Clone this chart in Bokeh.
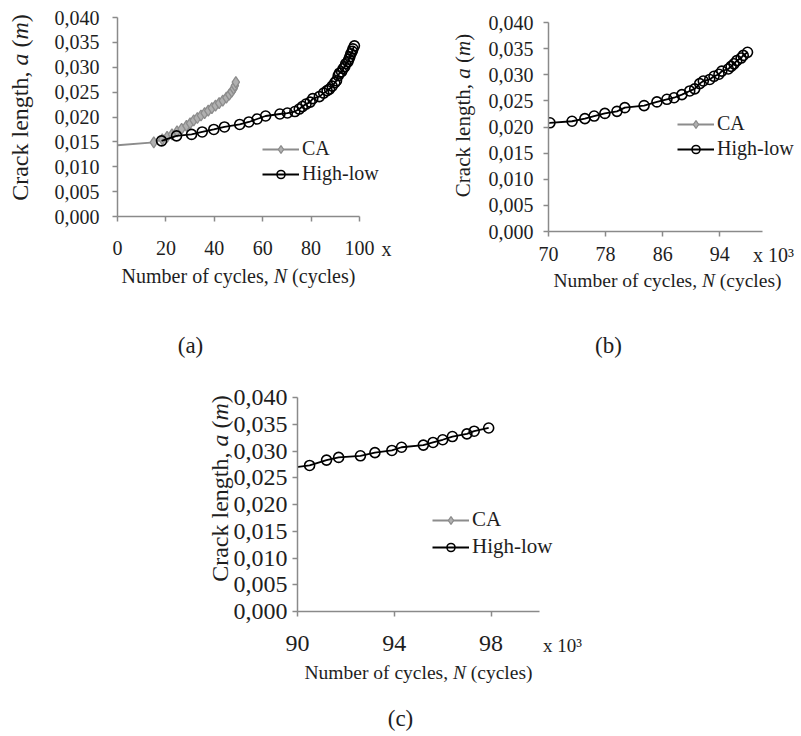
from bokeh.plotting import figure
from bokeh.models import (Label, Legend, LegendItem, FixedTicker, BoxAnnotation,
                          CustomJSTickFormatter, Spacer, Range1d)
from bokeh.layouts import column, row
from bokeh.embed import file_html
from bokeh.resources import INLINE

# ---------------- data (N in thousands of cycles, a in metres) ----------------
ca_n = [0.0, 15.0, 18.5, 20.5, 22.5, 24.6, 26.5, 28.5, 30.0, 31.5, 33.0, 34.5,
        36.0, 37.5, 39.0, 40.5, 42.0, 43.5, 45.0, 46.2, 47.2, 48.0, 48.5, 48.9]
ca_a = [0.0143, 0.0149, 0.0155, 0.0160, 0.0165, 0.0171, 0.0176, 0.0182, 0.0187,
        0.0193, 0.0198, 0.0203, 0.0208, 0.0213, 0.0218, 0.0223, 0.0228, 0.0233,
        0.0239, 0.0245, 0.0251, 0.0257, 0.0263, 0.0270]

hl_n = [18.2, 24.4, 30.6, 35.0, 39.8, 44.2, 50.5, 54.3, 57.7, 61.2, 67.1, 70.2,
        73.3, 75.1, 76.4, 77.9, 79.6, 80.7, 83.4, 85.2, 86.6, 87.6, 88.7, 89.8,
        90.5, 91.2, 91.7, 92.6, 93.2, 93.9, 94.3, 95.2, 95.6, 96.0, 96.4, 97.0,
        97.3, 97.9]
hl_a = [0.0152, 0.0162, 0.0165, 0.0170, 0.0175, 0.0180, 0.0185, 0.0190, 0.0196,
        0.0202, 0.0206, 0.0208, 0.0211, 0.0216, 0.0221, 0.0226, 0.0230, 0.0237,
        0.0241, 0.0248, 0.0253, 0.0256, 0.0262, 0.0269, 0.0273, 0.0283, 0.0288,
        0.0291, 0.0297, 0.0301, 0.0307, 0.0311, 0.0316, 0.0321, 0.0327, 0.0332,
        0.0337, 0.0343]

y_ticks = [0.0, 0.005, 0.010, 0.015, 0.020, 0.025, 0.030, 0.035, 0.040]
xa_ticks = [0, 20, 40, 60, 80, 100]
xb_ticks = [70, 78, 86, 94]
xc_ticks = [90, 94, 98]
series_labels = ["CA", "High-low"]
captions = ["(a)", "(b)", "(c)"]

FONT = "Liberation Serif"
TXT = "#1e1e1e"
AX = "#8a8a8a"
CA_LINE = "#8c8c8c"
CA_FILL = "#b0b0b0"

# (text, italic, start offset in em); total advance in em
X_PIECES = [("Number of cycles,", False, 0.0), ("N", True, 7.609), ("(cycles)", False, 8.526)]
X_TOTAL = 11.691
Y_PIECES = [("Crack length,", False, 0.0), ("a", True, 5.638), ("(", False, 6.388),
            ("m", True, 6.721), (")", False, 7.443)]
Y_TOTAL = 7.776


def make_panel(cfg):
    W, H = cfg["size"]
    L, T, R, B = cfg["box"]
    x0, x1 = cfg["xr"]
    kx = (R - L) / (x1 - x0)
    ky = (B - T) / 0.04
    p = figure(width=W, height=H,
               x_range=Range1d(x0 - L / kx, x1 + (W - R) / kx),
               y_range=Range1d(-(H - B) / ky, 0.04 + T / ky),
               output_backend="svg", toolbar_location=None,
               min_border=0, min_border_left=0, min_border_right=0,
               min_border_top=0, min_border_bottom=0,
               outline_line_color=None, background_fill_color="white",
               border_fill_color="white")
    p.xgrid.visible = False
    p.ygrid.visible = False

    def lab(px, py, text, fs, italic=False, angle=0.0, align="left"):
        p.add_layout(Label(x=px, y=H - py, x_units="screen", y_units="screen",
                           text=text, text_font=FONT, text_font_size=f"{fs}px",
                           text_font_style="italic" if italic else "normal",
                           text_color=TXT, angle=angle, text_align=align,
                           text_baseline="middle"))

    # CA: only shown where it falls inside the axis range (legend entry always kept)
    ca_vis = any(n >= x0 for n in ca_n)
    ca_l = p.line(ca_n, ca_a, line_color=CA_LINE, line_width=2,
                  level="underlay", visible=ca_vis)
    ca_m = p.scatter(ca_n[1:], ca_a[1:], marker="diamond", size=11, level="underlay",
                     fill_color=CA_FILL, line_color=CA_LINE, line_width=1.3,
                     visible=ca_vis)
    # High-low: points inside the range (line keeps the preceding point)
    first = min(i for i, n in enumerate(hl_n) if n >= x0)
    s0 = max(0, first - 1)
    hl_l = p.line(hl_n[s0:], hl_a[s0:], line_color="black", line_width=1.8,
                  level="underlay")
    hl_m = p.scatter(hl_n[first:], hl_a[first:], marker="circle", size=10,
                     fill_color=None, line_color="black", line_width=1.6,
                     level="underlay")

    # hide the short piece of curve left of the y axis
    p.add_layout(BoxAnnotation(left=x0 - 10 * (x1 - x0), right=x0,
                               fill_color="white", fill_alpha=1.0,
                               line_alpha=0, level="glyph"), "center")

    leg = Legend(items=[LegendItem(label=series_labels[0], renderers=[ca_l, ca_m]),
                        LegendItem(label=series_labels[1], renderers=[hl_l, hl_m])],
                 location=cfg["legend"], border_line_color=None,
                 background_fill_alpha=0, padding=0, margin=0, spacing=2,
                 glyph_width=37, glyph_height=20, label_height=20,
                 label_standoff=3, label_text_font=FONT,
                 label_text_font_size=f"{cfg['legend_fs']}px",
                 label_text_color=TXT)
    p.add_layout(leg, "center")

    for ax in (p.xaxis[0], p.yaxis[0]):
        ax.axis_line_color = AX
        ax.axis_line_width = 1.5
        ax.major_tick_line_color = AX
        ax.major_tick_line_width = 1.5
        ax.major_tick_in = 0
        ax.major_tick_out = 5
        ax.minor_tick_line_color = None
        ax.major_label_text_font = FONT
        ax.major_label_text_font_size = f"{cfg['tick_fs']}px"
        ax.major_label_text_color = TXT
    p.xaxis[0].fixed_location = 0.0
    p.xaxis[0].bounds = (x0, x1)
    p.xaxis[0].ticker = FixedTicker(ticks=cfg["xt"])
    p.xaxis[0].major_label_standoff = cfg["sx"]
    p.yaxis[0].fixed_location = x0
    p.yaxis[0].bounds = (0, 0.04)
    p.yaxis[0].ticker = FixedTicker(ticks=y_ticks)
    p.yaxis[0].major_label_standoff = cfg["sy"]
    p.yaxis[0].formatter = CustomJSTickFormatter(
        code="return tick.toFixed(3).replace('.', ',');")

    # x axis title with italic N
    cx, cy, fs = cfg["xtitle"]
    start = cx - X_TOTAL * fs / 2
    for t, it, off in X_PIECES:
        lab(start + off * fs, cy, t, fs, italic=it)
    # y axis title (vertical) with italic a and m
    cx, cy, fs = cfg["ytitle"]
    start = cy + Y_TOTAL * fs / 2
    for t, it, off in Y_PIECES:
        lab(cx, start - off * fs, t, fs, italic=it, angle=1.5707963)
    ux, uy, ut, ufs = cfg["unit"]
    lab(ux, uy, ut, ufs, align="center")
    kx_, ky_, kt = cfg["caption"]
    lab(kx_, ky_, kt, 23, align="center")
    return p


pa = make_panel(dict(size=(400, 380), box=(117, 17, 359, 216), xr=(0, 100),
                     xt=xa_ticks, tick_fs=20, sx=19, sy=13, legend=(262, 195),
                     legend_fs=20, xtitle=(238, 275, 20), ytitle=(19, 107, 24),
                     unit=(386, 248, "x", 20), caption=(190, 345, captions[0])))
pb = make_panel(dict(size=(401, 380), box=(148, 22, 362, 231), xr=(70, 100),
                     xt=xb_ticks, tick_fs=20, sx=10, sy=10, legend=(277, 220),
                     legend_fs=20, xtitle=(267, 280, 19.5), ytitle=(62, 115, 21),
                     unit=(373, 254, "x 10³", 20), caption=(208, 345, captions[1])))
pc = make_panel(dict(size=(440, 356), box=(117, 17, 359, 231), xr=(90, 100),
                     xt=xc_ticks, tick_fs=24, sx=19, sy=5, legend=(252, 177),
                     legend_fs=21, xtitle=(238, 292, 19.5), ytitle=(39, 108, 24),
                     unit=(382, 265, "x 10³", 19), caption=(220, 338, captions[2])))

layout = column(row(pa, pb), row(Spacer(width=180, height=356), pc))
open("out.html", "w").write(file_html(layout, INLINE))
